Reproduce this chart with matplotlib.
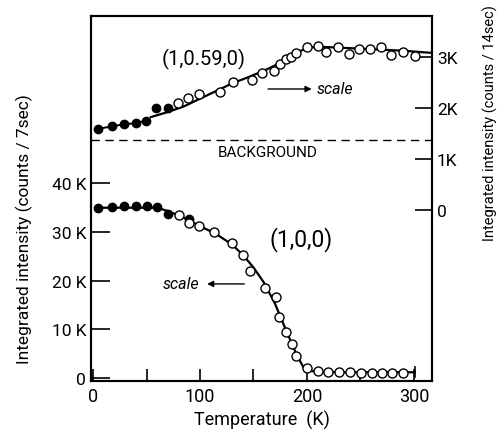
import numpy as np
import matplotlib.pyplot as plt

plt.rcParams['font.family'] = ['Roboto', 'DejaVu Sans']

# (1,0,0) reflection, left scale (counts / 7 sec)
t100_filled = [5, 18, 29, 40, 50, 59.5, 70, 90]
i100_filled = [34900, 35100, 35300, 35300, 35300, 35100, 33700, 32700]
t100_open = [80, 90, 99, 113, 130, 140, 147, 161, 171, 174, 180, 186, 190,
             200, 210, 220, 230, 240.5, 251, 260.5, 270.5, 280, 289.5]
i100_open = [33500, 31900, 31300, 29900, 27700, 25300, 22000, 18400, 16700,
             12400, 9400, 6900, 4400, 1900, 1400, 1100, 1100, 1100, 1000,
             1000, 1000, 1000, 1000]
t100_fit = [5, 60, 70, 80, 90, 100, 115, 130, 140, 150, 160, 170, 180, 190,
            197, 203, 210, 230, 260, 301]
i100_fit = [35000, 35000, 34300, 33400, 32400, 31200, 29600, 27400, 25300,
            22700, 19500, 15300, 10000, 4900, 2000, 1400, 1200, 1100, 1100,
            1100]

# (1,0.59,0) reflection, right scale (counts / 14 sec)
t059_filled = [5, 18, 29, 40, 49.5, 59, 70]
i059_filled = [1590, 1640, 1680, 1700, 1750, 2000, 2000]
t059_open = [79, 89, 99, 119, 130.5, 149, 158, 169.5, 175, 180, 185, 190,
             200, 210, 218, 229, 239, 249, 259, 269, 278.5, 290, 301]
i059_open = [2100, 2190, 2270, 2310, 2500, 2550, 2690, 2730, 2860, 2950, 3000,
             3080, 3190, 3220, 3090, 3190, 3060, 3160, 3160, 3190, 3030, 3100,
             3010]
t059_fit = [54, 70, 85, 100, 115, 130, 145, 160, 170, 180, 190, 200, 210, 230,
            260, 290, 315]
i059_fit = [1820, 1920, 2030, 2180, 2330, 2480, 2600, 2730, 2830, 2970, 3080,
            3170, 3200, 3180, 3150, 3120, 3080]
background = 1370

fig = plt.figure(figsize=(4.98, 4.35), dpi=100)
ax = fig.add_axes([91 / 498, 53 / 435, 341 / 498, 365 / 435])
ax2 = ax.twinx()

ax.set_xlim(-2, 317)
ax.set_ylim(-700, 74500)
ax2.set_ylim(-3350, 3800)

# lower curve
ax.plot(t100_fit, i100_fit, color='black', lw=1.6, zorder=2)
ax.plot([301, 301], [100, 2100], color='black', lw=1.2)
ax.plot(t100_filled, i100_filled, 'o', color='black', ms=6, zorder=3)
ax.plot(t100_open, i100_open, 'o', mfc='white', mec='black', mew=1, ms=6.5, zorder=4)

# upper curve
ax2.plot(t059_filled[:5], i059_filled[:5], color='black', lw=1.4)
ax2.plot(t059_fit, i059_fit, color='black', lw=1.6, zorder=2)
ax2.plot(t059_filled, i059_filled, 'o', color='black', ms=6, zorder=3)
ax2.plot(t059_open, i059_open, 'o', mfc='white', mec='black', mew=1, ms=6.5, zorder=4)
ax2.axhline(background, color='black', lw=1, dashes=(6, 4))

# annotations
ax2.text(103, 2960, '(1,0.59,0)', fontsize=14.5, ha='center', va='center')
ax2.annotate('', xy=(207, 2370), xytext=(161, 2370),
             arrowprops=dict(arrowstyle='-|>', color='black', lw=1, mutation_scale=9))
ax2.text(209, 2370, 'scale', fontsize=11.5, style='italic', va='center')
ax2.text(163.5, 1140, 'BACKGROUND', fontsize=11, ha='center', va='center')
ax.text(195, 28600, '(1,0,0)', fontsize=16.5, ha='center', va='center')
ax.annotate('', xy=(104, 19300), xytext=(144, 19300),
            arrowprops=dict(arrowstyle='-|>', color='black', lw=1, mutation_scale=9))
ax.text(99, 19300, 'scale', fontsize=11.5, style='italic', va='center', ha='right')

# ticks
ax.set_xticks([0, 100, 200, 300])
ax.set_xticks([50, 150, 250], minor=True)
ax.set_yticks([0, 10000, 20000, 30000, 40000])
ax.set_yticklabels(['0', '10 K', '20 K', '30 K', '40 K'])
ax.tick_params(axis='x', which='both', direction='in', length=9, width=1.2,
               labelsize=13, pad=4)
ax.tick_params(axis='y', direction='in', length=14, width=1.2, labelsize=12.5)
ax2.set_yticks([0, 1000, 2000, 3000])
ax2.set_yticklabels(['0', '1K', '2K', '3K'])
ax2.tick_params(axis='y', direction='in', length=12, width=1.2, labelsize=12.5)

for a in (ax, ax2):
    for s in a.spines.values():
        s.set_linewidth(1.5)

ax.set_xlabel('Temperature  (K)', fontsize=13)
ax.set_ylabel('Integrated intensity (counts / 7sec)', fontsize=12.5)
ax.yaxis.set_label_coords(-0.17, 0.42)
ax2.set_ylabel('Integrated intensity (counts / 14sec)', fontsize=10.5)
ax2.yaxis.set_label_coords(1.15, 0.71)

fig.savefig('out.png', dpi=100)
